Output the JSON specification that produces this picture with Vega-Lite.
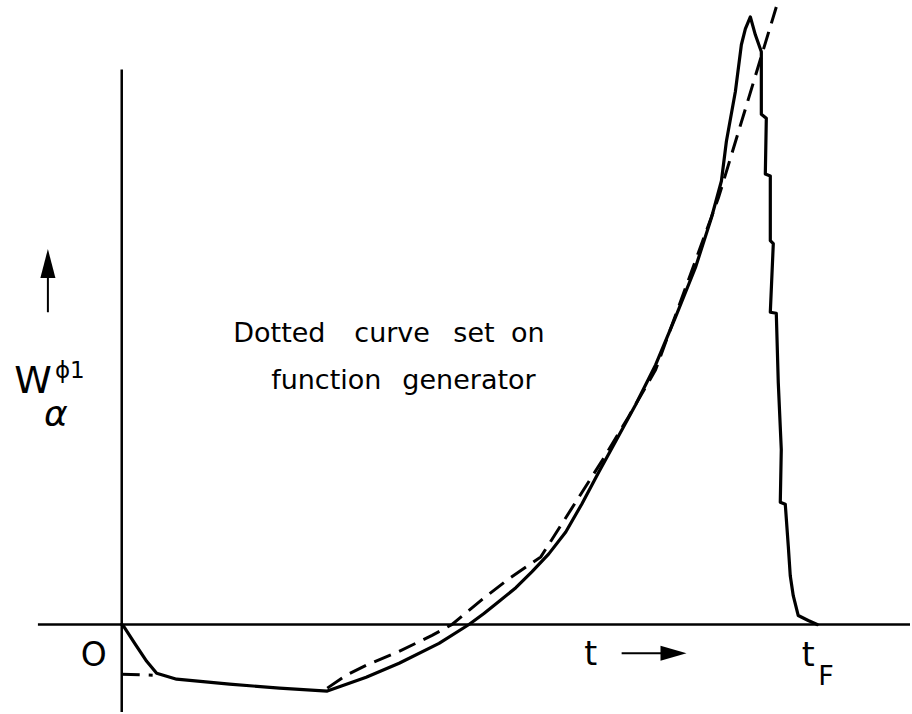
{
  "$schema": "https://vega.github.io/schema/vega-lite/v6.json",
  "width": 912,
  "height": 714,
  "autosize": {"type": "fit", "contains": "padding"},
  "padding": 0,
  "background": "white",
  "config": {"view": {"stroke": null}},
  "datasets": {
    "axes": [
      {"name": "t axis", "t1": -84, "t2": 790, "w1": 0, "w2": 0},
      {"name": "W axis", "t1": 0, "t2": 0, "w1": 558, "w2": -88}
    ],
    "solid": [
      {"i": 1, "t": 0, "w": 0},
      {"i": 2, "t": 2, "w": -2},
      {"i": 3, "t": 13, "w": -19},
      {"i": 4, "t": 25, "w": -37},
      {"i": 5, "t": 35, "w": -49},
      {"i": 6, "t": 55, "w": -55},
      {"i": 7, "t": 108, "w": -60},
      {"i": 8, "t": 158, "w": -64},
      {"i": 9, "t": 206, "w": -67},
      {"i": 10, "t": 245, "w": -53},
      {"i": 11, "t": 278, "w": -39},
      {"i": 12, "t": 318, "w": -19},
      {"i": 13, "t": 348, "w": 0},
      {"i": 14, "t": 363, "w": 11},
      {"i": 15, "t": 378, "w": 23},
      {"i": 16, "t": 395, "w": 37},
      {"i": 17, "t": 411, "w": 53},
      {"i": 18, "t": 428, "w": 71},
      {"i": 19, "t": 445, "w": 93},
      {"i": 20, "t": 461, "w": 121},
      {"i": 21, "t": 478, "w": 153},
      {"i": 22, "t": 496, "w": 186},
      {"i": 23, "t": 515, "w": 221},
      {"i": 24, "t": 535, "w": 261},
      {"i": 25, "t": 555, "w": 309},
      {"i": 26, "t": 575, "w": 359},
      {"i": 27, "t": 591, "w": 409},
      {"i": 28, "t": 601, "w": 446},
      {"i": 29, "t": 606, "w": 486},
      {"i": 30, "t": 615, "w": 536},
      {"i": 31, "t": 621, "w": 583},
      {"i": 32, "t": 625, "w": 599},
      {"i": 33, "t": 630, "w": 611},
      {"i": 34, "t": 635, "w": 593},
      {"i": 35, "t": 641, "w": 576},
      {"i": 36, "t": 641, "w": 513},
      {"i": 37, "t": 646, "w": 509},
      {"i": 38, "t": 645, "w": 453},
      {"i": 39, "t": 650, "w": 451},
      {"i": 40, "t": 650, "w": 386},
      {"i": 41, "t": 653, "w": 383},
      {"i": 42, "t": 650, "w": 314},
      {"i": 43, "t": 656, "w": 313},
      {"i": 44, "t": 658, "w": 243},
      {"i": 45, "t": 661, "w": 176},
      {"i": 46, "t": 660, "w": 123},
      {"i": 47, "t": 665, "w": 121},
      {"i": 48, "t": 668, "w": 79},
      {"i": 49, "t": 670, "w": 49},
      {"i": 50, "t": 673, "w": 29},
      {"i": 51, "t": 678, "w": 9},
      {"i": 52, "t": 688, "w": 4},
      {"i": 53, "t": 697, "w": 0}
    ],
    "dashed": [
      {"seg": "a", "i": 1, "t": 0, "w": -50},
      {"seg": "a", "i": 2, "t": 31, "w": -51},
      {"seg": "b", "i": 3, "t": 206, "w": -64},
      {"seg": "b", "i": 4, "t": 225, "w": -51},
      {"seg": "b", "i": 5, "t": 245, "w": -41},
      {"seg": "b", "i": 6, "t": 278, "w": -27},
      {"seg": "b", "i": 7, "t": 311, "w": -11},
      {"seg": "b", "i": 8, "t": 331, "w": 0},
      {"seg": "b", "i": 9, "t": 361, "w": 25},
      {"seg": "b", "i": 10, "t": 388, "w": 46},
      {"seg": "b", "i": 11, "t": 420, "w": 68},
      {"seg": "b", "i": 12, "t": 481, "w": 164},
      {"seg": "b", "i": 13, "t": 508, "w": 209},
      {"seg": "b", "i": 14, "t": 535, "w": 256},
      {"seg": "b", "i": 15, "t": 598, "w": 429},
      {"seg": "b", "i": 16, "t": 656, "w": 621}
    ],
    "shafts": [
      {"name": "W arrow", "t1": -74, "t2": -74, "w1": 352, "w2": 314},
      {"name": "t arrow", "t1": 501, "t2": 545, "w1": -29, "w2": -29}
    ],
    "note": [
      {"word": "Dotted", "t": 158, "w": 284},
      {"word": "curve", "t": 271, "w": 284},
      {"word": "set", "t": 353, "w": 284},
      {"word": "on", "t": 407, "w": 284},
      {"word": "function", "t": 205, "w": 237},
      {"word": "generator", "t": 348, "w": 237}
    ]
  },
  "layer": [
    {
      "data": {"name": "axes"},
      "mark": {"type": "rule", "color": "black", "strokeWidth": 2.5},
      "encoding": {
        "x": {"field": "t1", "type": "quantitative", "scale": {"domain": [-122, 790], "nice": false, "zero": false}, "axis": null},
        "x2": {"field": "t2"},
        "y": {"field": "w1", "type": "quantitative", "scale": {"domain": [-88, 626], "nice": false, "zero": false}, "axis": null},
        "y2": {"field": "w2"}
      }
    },
    {
      "data": {"name": "solid"},
      "mark": {"type": "line", "color": "black", "strokeWidth": 3.2, "strokeJoin": "round", "strokeCap": "round"},
      "encoding": {
        "x": {"field": "t", "type": "quantitative", "scale": {"domain": [-122, 790], "nice": false, "zero": false}, "axis": null},
        "y": {"field": "w", "type": "quantitative", "scale": {"domain": [-88, 626], "nice": false, "zero": false}, "axis": null},
        "order": {"field": "i", "type": "quantitative"}
      }
    },
    {
      "data": {"name": "dashed"},
      "mark": {"type": "line", "color": "black", "strokeWidth": 3, "strokeDash": [18, 9]},
      "encoding": {
        "x": {"field": "t", "type": "quantitative", "scale": {"domain": [-122, 790], "nice": false, "zero": false}, "axis": null},
        "y": {"field": "w", "type": "quantitative", "scale": {"domain": [-88, 626], "nice": false, "zero": false}, "axis": null},
        "detail": {"field": "seg", "type": "nominal"},
        "order": {"field": "i", "type": "quantitative"}
      }
    },
    {
      "data": {"name": "shafts"},
      "mark": {"type": "rule", "color": "black", "strokeWidth": 2},
      "encoding": {
        "x": {"field": "t1", "type": "quantitative", "scale": {"domain": [-122, 790], "nice": false, "zero": false}, "axis": null},
        "x2": {"field": "t2"},
        "y": {"field": "w1", "type": "quantitative", "scale": {"domain": [-88, 626], "nice": false, "zero": false}, "axis": null},
        "y2": {"field": "w2"}
      }
    },
    {
      "data": {"values": [{"name": "W arrow head", "t": -74, "w": 363}]},
      "mark": {"type": "point", "filled": true, "color": "black", "opacity": 1, "shape": "M0,-1L0.52,1L-0.52,1Z", "size": 841},
      "encoding": {
        "x": {"field": "t", "type": "quantitative", "scale": {"domain": [-122, 790], "nice": false, "zero": false}, "axis": null},
        "y": {"field": "w", "type": "quantitative", "scale": {"domain": [-88, 626], "nice": false, "zero": false}, "axis": null}
      }
    },
    {
      "data": {"values": [{"name": "t arrow head", "t": 553, "w": -29}]},
      "mark": {"type": "point", "filled": true, "color": "black", "opacity": 1, "shape": "M-1,-0.58L1,0L-1,0.58Z", "size": 676},
      "encoding": {
        "x": {"field": "t", "type": "quantitative", "scale": {"domain": [-122, 790], "nice": false, "zero": false}, "axis": null},
        "y": {"field": "w", "type": "quantitative", "scale": {"domain": [-88, 626], "nice": false, "zero": false}, "axis": null}
      }
    },
    {
      "data": {"name": "note"},
      "mark": {"type": "text", "font": "DejaVu Sans", "fontSize": 27, "align": "center", "baseline": "alphabetic", "color": "black"},
      "encoding": {
        "x": {"field": "t", "type": "quantitative", "scale": {"domain": [-122, 790], "nice": false, "zero": false}, "axis": null},
        "y": {"field": "w", "type": "quantitative", "scale": {"domain": [-88, 626], "nice": false, "zero": false}, "axis": null},
        "text": {"field": "word"}
      }
    },
    {
      "data": {"values": [
        {"label": "O", "t": -28, "w": -42},
        {"label": "t", "t": 470, "w": -41},
        {"label": "t", "t": 688, "w": -42}
      ]},
      "mark": {"type": "text", "font": "DejaVu Sans", "fontSize": 33, "align": "center", "baseline": "alphabetic", "color": "black"},
      "encoding": {
        "x": {"field": "t", "type": "quantitative", "scale": {"domain": [-122, 790], "nice": false, "zero": false}, "axis": null},
        "y": {"field": "w", "type": "quantitative", "scale": {"domain": [-88, 626], "nice": false, "zero": false}, "axis": null},
        "text": {"field": "label"}
      }
    },
    {
      "data": {"values": [{"label": "F", "t": 698, "w": -61}]},
      "mark": {"type": "text", "font": "DejaVu Sans", "fontSize": 27, "align": "left", "baseline": "alphabetic", "color": "black"},
      "encoding": {
        "x": {"field": "t", "type": "quantitative", "scale": {"domain": [-122, 790], "nice": false, "zero": false}, "axis": null},
        "y": {"field": "w", "type": "quantitative", "scale": {"domain": [-88, 626], "nice": false, "zero": false}, "axis": null},
        "text": {"field": "label"}
      }
    },
    {
      "data": {"values": [{"label": "W", "t": -89, "w": 233}]},
      "mark": {"type": "text", "font": "DejaVu Sans", "fontSize": 38, "align": "center", "baseline": "alphabetic", "color": "black"},
      "encoding": {
        "x": {"field": "t", "type": "quantitative", "scale": {"domain": [-122, 790], "nice": false, "zero": false}, "axis": null},
        "y": {"field": "w", "type": "quantitative", "scale": {"domain": [-88, 626], "nice": false, "zero": false}, "axis": null},
        "text": {"field": "label"}
      }
    },
    {
      "data": {"values": [{"label": "ϕ1", "t": -67, "w": 248}]},
      "mark": {"type": "text", "font": "DejaVu Sans", "fontSize": 23, "align": "left", "baseline": "alphabetic", "color": "black"},
      "encoding": {
        "x": {"field": "t", "type": "quantitative", "scale": {"domain": [-122, 790], "nice": false, "zero": false}, "axis": null},
        "y": {"field": "w", "type": "quantitative", "scale": {"domain": [-88, 626], "nice": false, "zero": false}, "axis": null},
        "text": {"field": "label"}
      }
    },
    {
      "data": {"values": [{"label": "α", "t": -66, "w": 200}]},
      "mark": {"type": "text", "font": "DejaVu Sans", "fontSize": 36, "fontStyle": "italic", "align": "center", "baseline": "alphabetic", "color": "black"},
      "encoding": {
        "x": {"field": "t", "type": "quantitative", "scale": {"domain": [-122, 790], "nice": false, "zero": false}, "axis": null},
        "y": {"field": "w", "type": "quantitative", "scale": {"domain": [-88, 626], "nice": false, "zero": false}, "axis": null},
        "text": {"field": "label"}
      }
    }
  ]
}
